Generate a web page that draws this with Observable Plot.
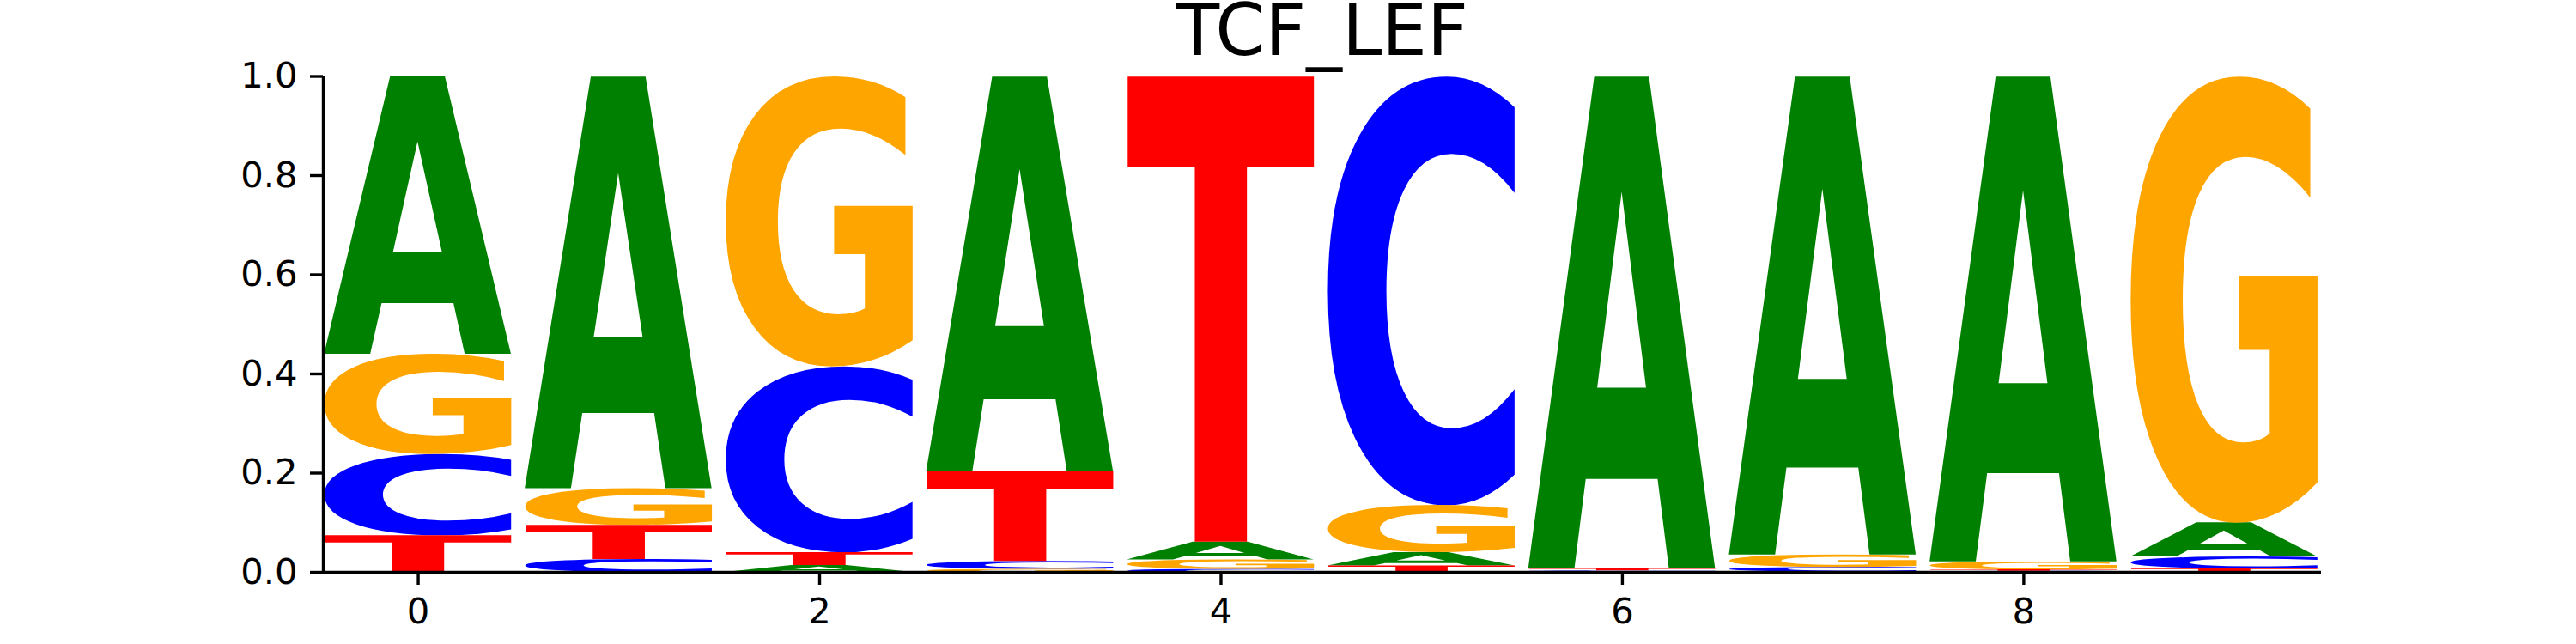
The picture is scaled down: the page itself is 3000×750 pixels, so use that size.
<!DOCTYPE html>
<html>
<head>
<meta charset="utf-8">
<script src="https://cdn.jsdelivr.net/npm/d3@7"></script>
<script src="https://cdn.jsdelivr.net/npm/@observablehq/plot@0.6"></script>
<style>
  body { margin: 0; background: white; }
  #chart svg { display: block; }
</style>
</head>
<body>
<div id="chart"></div>
<script>
const positions = [0, 1, 2, 3, 4, 5, 6, 7, 8, 9]
const bases = ['A', 'C', 'G', 'T']
const probA = [0.560, 0.831, 0.014, 0.797, 0.036, 0.027, 0.993, 0.965, 0.979, 0.069]
const probC = [0.164, 0.026, 0.375, 0.016, 0.006, 0.865, 0.002, 0.009, 0.002, 0.024]
const probG = [0.202, 0.074, 0.585, 0.006, 0.019, 0.095, 0.001, 0.025, 0.016, 0.900]
const probT = [0.074, 0.069, 0.026, 0.181, 0.939, 0.013, 0.004, 0.001, 0.003, 0.007]
const baseColors = ['#008000', '#0000ff', '#ffa500', '#ff0000']
const xTicks = [0, 2, 4, 6, 8]
const yTicks = [0, 0.2, 0.4, 0.6, 0.8, 1.0]
const titulo = 'TCF_LEF'

const probs = {A: probA, C: probC, G: probG, T: probT}
const data = positions.flatMap((pos, i) => bases.map(base => ({pos, base, p: probs[base][i]})))

const xDomain = [-0.473, 9.483]
const letterWidth = 0.93
const marginLeft = 376
const marginRight = 297
const width = 3000

let chart = Plot.plot({
  width: width,
  height: 750,
  marginLeft: marginLeft,
  marginRight: marginRight,
  marginTop: 88.5,
  marginBottom: 84,
  style: {
    fontFamily: 'DejaVu Sans',
    fontSize: '41.7px',
    color: 'black',
    background: 'white',
  },
  x: {domain: xDomain, label: null},
  y: {domain: [0, 1], label: null},
  color: {domain: bases, range: baseColors},
  marks: [
    // cada letra ocupa un rectángulo apilado, de menor a mayor
    Plot.rectY(data, {
      x1: d => d.pos - letterWidth / 2,
      x2: d => d.pos + letterWidth / 2,
      y: 'p',
      fill: 'base',
      title: 'base',
      order: 'value',
    }),
    Plot.axisX({ticks: xTicks, tickSize: 15, tickPadding: 15, strokeWidth: 3.4, tickFormat: d3.format('d'), label: null}),
    Plot.axisY({ticks: yTicks, tickSize: 15, tickPadding: 15, strokeWidth: 3.4, tickFormat: d3.format('.1f'), label: null}),
    Plot.ruleY([0], {strokeWidth: 3.4}),
    Plot.ruleX([xDomain[0]], {y1: 0, y2: 1, strokeWidth: 3.4}),
  ],
})

d3.select('#chart').append(() => chart)

// caja de tinta real de cada letra (en unidades de fuente de 100px)
const fontSize = 100
function inkBox(letter) {
  const n = 600, ox = 150, oy = 450, k = 3
  const c = document.createElement('canvas')
  c.width = n; c.height = n
  const g = c.getContext('2d')
  g.font = `bold ${fontSize * k}px "DejaVu Sans"`
  g.textAlign = 'start'
  g.textBaseline = 'alphabetic'
  g.fillStyle = '#000'
  g.fillText(letter, ox, oy)
  const px = g.getImageData(0, 0, n, n).data
  let x0 = n, x1 = 0, y0 = n, y1 = 0
  for (let yy = 0; yy < n; yy++) {
    for (let xx = 0; xx < n; xx++) {
      if (px[(yy * n + xx) * 4 + 3] > 127) {
        if (xx < x0) x0 = xx
        if (xx > x1) x1 = xx
        if (yy < y0) y0 = yy
        if (yy > y1) y1 = yy
      }
    }
  }
  return {left: (x0 - ox) / k, right: (x1 + 1 - ox) / k, top: (y0 - oy) / k, bottom: (y1 + 1 - oy) / k}
}
const boxes = {}
bases.forEach(b => { boxes[b] = inkBox(b) })

// cambiamos cada rectángulo por su letra estirada
d3.select(chart).selectAll('g[aria-label="rect"] rect').each(function () {
  const r = d3.select(this)
  const letter = r.select('title').text()
  const x = +r.attr('x'), y = +r.attr('y'), w = +r.attr('width'), h = +r.attr('height')
  const b = boxes[letter]
  d3.select(this.parentNode).append('text')
    .attr('font-family', 'DejaVu Sans')
    .attr('font-weight', 'bold')
    .attr('font-size', fontSize)
    .attr('text-anchor', 'start')
    .attr('fill', r.attr('fill'))
    .attr('transform', `translate(${x},${y}) scale(${w / (b.right - b.left)},${h / (b.bottom - b.top)}) translate(${-b.left},${-b.top})`)
    .text(letter)
  r.remove()
})

// título
d3.select(chart).append('text')
  .attr('x', (marginLeft + width - marginRight) / 2)
  .attr('y', 64)
  .attr('text-anchor', 'middle')
  .attr('font-family', 'DejaVu Sans')
  .attr('font-size', 83.3)
  .attr('fill', 'black')
  .text(titulo)
</script>
</body>
</html>
